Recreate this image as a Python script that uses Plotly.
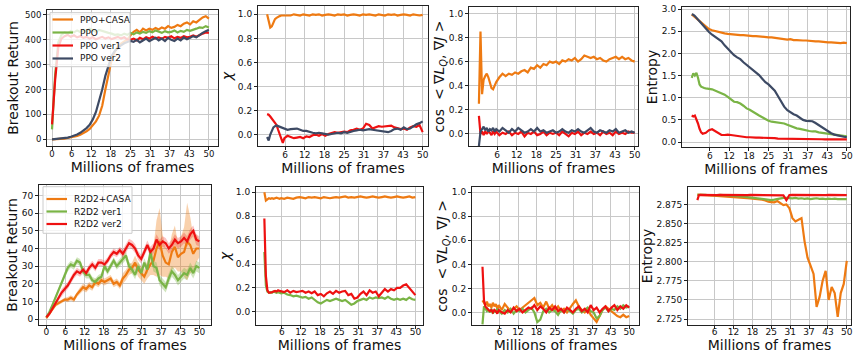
import plotly.graph_objects as go
import numpy as np

# ---------------- colours ----------------
C_ORANGE = "#EE7A12"
C_GREEN = "#7AB446"
C_RED = "#EE1111"
C_NAVY = "#3D4A64"

# ---------------- x grids (millions of frames) ----------------
FRAMES = list(range(0, 51))
FRAMES_FINE = [0.5, 1, 1.5, 2, 2.5, 3, 3.5, 4, 4.5, 5, 5.5] + list(range(6, 51))

X_TICKS_FULL = [0, 6.25, 12.5, 18.75, 25, 31.25, 37.5, 43.75, 50]
X_LABELS_FULL = ["0", "6", "12", "18", "25", "31", "37", "43", "50"]
X_TICKS_NOZERO = X_TICKS_FULL[1:]
X_LABELS_NOZERO = X_LABELS_FULL[1:]

# ---------------- PPO: Breakout return ----------------
ppo_casa_ret = [0, 0, 1, 2, 3, 5, 7, 10, 13, 18, 24, 32, 42, 55, 72, 95, 135, 200, 265, 320,
                352, 372, 385, 395, 402, 418, 432, 440, 430, 445, 438, 445, 440, 448, 442, 450,
                445, 455, 448, 452, 460, 455, 465, 470, 462, 475, 470, 480, 490, 495, 485]
ppo_ret = [40, 260, 390, 420, 430, 425, 435, 430, 438, 432, 440, 435, 445, 438, 432, 440, 435,
           430, 428, 425, 420, 422, 418, 425, 420, 428, 422, 430, 425, 432, 428, 435, 430, 438,
           432, 428, 435, 430, 432, 438, 430, 436, 432, 440, 436, 442, 445, 450, 448, 455, 450]
ppo_v1_ret = [60, 240, 370, 405, 415, 420, 412, 418, 410, 415, 408, 412, 405, 410, 402, 408,
              412, 405, 410, 403, 408, 412, 405, 410, 402, 400, 405, 398, 408, 402, 410, 405,
              412, 406, 410, 404, 412, 408, 414, 406, 412, 408, 415, 410, 412, 418, 412, 420,
              425, 430, 428]
ppo_v2_ret = [0, 1, 2, 3, 5, 7, 10, 14, 19, 26, 35, 45, 58, 80, 110, 150, 200, 255, 300, 335,
              355, 368, 378, 386, 392, 396, 392, 400, 390, 398, 405, 395, 402, 408, 398, 405,
              395, 408, 400, 395, 405, 398, 410, 402, 408, 415, 410, 420, 428, 435, 440]

# ---------------- PPO: chi ----------------
ppo_casa_chi = [1.0, 0.95, 0.89, 0.9, 0.93, 0.96, 0.97, 0.98, 0.985, 0.99, 0.99,
                0.99, 0.995, 0.99, 1.0, 0.995, 0.99, 1.0, 0.995, 0.99, 1.0,
                0.995, 1.0, 0.99, 0.995, 1.0, 0.995, 0.99, 1.0, 0.995, 1.0,
                0.99, 0.995, 1.0, 0.995, 0.99, 1.0, 0.995, 1.0, 0.995, 0.99,
                1.0, 0.995, 0.99, 1.0, 0.995, 1.0, 0.99, 0.995, 1.0, 0.995,
                0.99, 1.0, 0.995, 0.99, 0.995]
ppo_v1_chi = [0.17, 0.165, 0.15, 0.13, 0.11, 0.1, 0.08, 0.04, 0.0, -0.05, -0.07,
              -0.03, -0.01, -0.02, -0.03, -0.025, -0.02, -0.03, -0.015, -0.02, -0.005,
              0.0, -0.01, 0.005, -0.01, 0.005, 0.01, 0.02, 0.015, 0.02, 0.025,
              0.02, 0.035, 0.04, 0.05, 0.04, 0.05, 0.09, 0.08, 0.05, 0.06,
              0.07, 0.065, 0.07, 0.07, 0.075, 0.06, 0.055, 0.045, 0.05, 0.04,
              0.06, 0.07, 0.065, 0.08, 0.02]
ppo_v2_chi = [-0.02, -0.05, 0.0, 0.04, 0.06, 0.07, 0.075, 0.07, 0.065, 0.055, 0.05,
              0.045, 0.04, 0.045, 0.05, 0.05, 0.04, 0.03, 0.03, 0.02, 0.015,
              0.01, 0.015, 0.01, 0.005, 0.0, 0.005, 0.01, 0.015, 0.01, 0.02,
              0.015, 0.025, 0.03, 0.035, 0.04, 0.035, 0.04, 0.045, 0.04, 0.035,
              0.03, 0.025, 0.02, 0.02, 0.03, 0.045, 0.05, 0.04, 0.06, 0.045,
              0.05, 0.07, 0.085, 0.095, 0.11]

# ---------------- PPO: cos(grad L_Q, grad J) ----------------
ppo_casa_cos = [0.25, 0.85, 0.33, 0.45, 0.48, 0.5, 0.47, 0.42, 0.38, 0.37, 0.4,
                0.43, 0.47, 0.5, 0.48, 0.5, 0.49, 0.51, 0.5, 0.52, 0.53,
                0.51, 0.55, 0.54, 0.57, 0.55, 0.58, 0.57, 0.6, 0.59, 0.6,
                0.58, 0.61, 0.6, 0.62, 0.61, 0.63, 0.6, 0.62, 0.65, 0.64,
                0.63, 0.64, 0.62, 0.63, 0.61, 0.6, 0.62, 0.63, 0.64, 0.62,
                0.64, 0.62, 0.63, 0.61, 0.6]
ppo_v1_cos = [0.15, 0.0, 0.02, -0.01, 0.02, 0.0, 0.03, 0.01, -0.01, 0.02, 0.0,
              0.02, -0.01, 0.01, 0.0, 0.02, -0.01, 0.01, 0.0, 0.02, -0.02,
              0.01, 0.0, 0.02, -0.01, 0.0, 0.02, -0.01, 0.01, 0.0, 0.01,
              -0.01, 0.02, 0.0, -0.02, 0.01, 0.0, 0.02, -0.01, 0.01, 0.0,
              0.02, 0.0, 0.01, -0.01, 0.02, 0.0, 0.01, -0.01, 0.02, 0.0,
              0.01, 0.0, 0.02, 0.01, 0.01]
ppo_v2_cos = [-0.1, 0.02, 0.04, 0.06, 0.03, 0.05, 0.02, 0.04, 0.03, 0.05, 0.02,
              0.04, 0.02, 0.05, 0.03, 0.01, 0.04, 0.02, 0.05, 0.03, 0.01,
              0.02, 0.04, 0.02, 0.05, 0.02, 0.03, 0.01, 0.02, 0.03, 0.01,
              0.02, 0.04, 0.02, 0.01, 0.03, 0.02, 0.04, 0.02, 0.01, 0.03,
              0.05, 0.02, 0.01, 0.03, 0.02, 0.01, 0.03, 0.02, 0.04, 0.01,
              0.02, 0.03, 0.01, 0.02, 0.01]

# ---------------- PPO: entropy ----------------
ppo_casa_ent = [2.88, 2.85, 2.82, 2.79, 2.76, 2.72, 2.69, 2.65, 2.62, 2.59, 2.57,
                2.55, 2.52, 2.5, 2.48, 2.47, 2.45, 2.44, 2.43, 2.42, 2.42,
                2.41, 2.41, 2.4, 2.4, 2.39, 2.39, 2.38, 2.37, 2.37, 2.36,
                2.36, 2.35, 2.34, 2.33, 2.32, 2.31, 2.32, 2.3, 2.3, 2.29,
                2.29, 2.29, 2.28, 2.28, 2.27, 2.27, 2.26, 2.26, 2.25, 2.25,
                2.24, 2.24, 2.23, 2.24, 2.23]
ppo_ent = [1.45, 1.55, 1.5, 1.56, 1.45, 1.3, 1.25, 1.23, 1.22, 1.21, 1.21,
           1.2, 1.19, 1.16, 1.13, 1.11, 1.07, 1.02, 0.96, 0.91, 0.9,
           0.87, 0.82, 0.76, 0.73, 0.68, 0.64, 0.6, 0.56, 0.52, 0.48,
           0.46, 0.45, 0.44, 0.43, 0.42, 0.39, 0.36, 0.33, 0.31, 0.3,
           0.28, 0.26, 0.25, 0.24, 0.24, 0.22, 0.21, 0.2, 0.18, 0.17,
           0.16, 0.15, 0.15, 0.14, 0.13]
ppo_v1_ent = [0.6, 0.58, 0.6, 0.52, 0.42, 0.3, 0.22, 0.19, 0.2, 0.21, 0.24,
              0.27, 0.29, 0.25, 0.2, 0.16, 0.16, 0.17, 0.16, 0.15, 0.13,
              0.12, 0.11, 0.11, 0.11, 0.1, 0.1, 0.1, 0.1, 0.09, 0.09,
              0.09, 0.09, 0.08, 0.08, 0.08, 0.08, 0.08, 0.07, 0.07, 0.07,
              0.07, 0.07, 0.07, 0.07, 0.065, 0.065, 0.065, 0.06, 0.06, 0.06,
              0.06, 0.06, 0.06, 0.06, 0.06]
ppo_v2_ent = [2.88, 2.87, 2.84, 2.8, 2.76, 2.72, 2.68, 2.63, 2.59, 2.55, 2.51,
              2.48, 2.42, 2.37, 2.32, 2.27, 2.18, 2.1, 2.02, 1.96, 1.91,
              1.87, 1.8, 1.74, 1.69, 1.64, 1.57, 1.51, 1.43, 1.35, 1.3,
              1.24, 1.16, 1.04, 0.92, 0.8, 0.72, 0.67, 0.63, 0.6, 0.55,
              0.5, 0.48, 0.47, 0.47, 0.43, 0.38, 0.33, 0.28, 0.24, 0.2,
              0.17, 0.15, 0.13, 0.12, 0.11]

# ---------------- R2D2: Breakout return (mean and half band width) ----------------
r2d2_casa_ret = [0.5, 3, 6, 8, 9, 10, 11, 11, 12, 11, 14, 16, 18, 17, 19, 18, 21, 20, 22, 21,
                 22, 23, 20, 21, 19, 23, 25, 28, 29, 32, 28, 26, 24, 28, 31, 33, 40, 44, 36, 32,
                 31, 38, 41, 35, 37, 38, 44, 42, 37, 40, 40]
r2d2_casa_band = [0.5, 1, 1, 1, 1, 1, 1, 1.5, 1.5, 1.5, 1.5, 2, 2, 2, 2, 2, 2, 2, 2, 2,
                  2, 2, 2, 2, 2, 3, 3, 3, 3, 4, 4, 4, 4, 5, 6, 8, 16, 19, 12, 8,
                  8, 10, 12, 8, 10, 14, 22, 16, 10, 8, 5]
r2d2_v1_ret = [1, 4, 8, 12, 16, 20, 25, 29, 31, 30, 33, 32, 27, 25, 25, 22, 21, 23, 24, 30,
               27, 30, 33, 30, 32, 34, 36, 30, 28, 25, 30, 26, 32, 28, 38, 30, 29, 22, 20, 18,
               23, 27, 25, 22, 24, 26, 25, 29, 26, 30, 29]
r2d2_v1_band = [0.5, 1, 1, 1.5, 1.5, 2, 2, 2, 2, 2, 2, 2, 2, 2, 2, 2, 2, 2, 2, 2,
                2, 2, 2, 2, 2, 2.5, 2.5, 2.5, 2.5, 2.5, 2.5, 2.5, 2.5, 2.5, 3, 3, 3, 3, 3, 3,
                3, 3, 3, 3, 3, 3, 3, 3, 3, 3, 3]
r2d2_v2_ret = [1, 3, 6, 9, 12, 15, 17, 19, 22, 25, 27, 26, 28, 26, 29, 31, 29, 32, 32, 31,
               33, 36, 38, 37, 39, 37, 40, 43, 42, 40, 36, 34, 38, 42, 38, 40, 45, 42, 44, 43,
               40, 42, 45, 43, 44, 46, 44, 48, 50, 45, 44]
r2d2_v2_band = [0.5, 1, 1, 1.5, 1.5, 2, 2, 2, 2, 2, 2, 2, 2, 2, 2, 2, 2, 2, 2, 2,
                2, 2, 2, 2, 2, 2.5, 2.5, 2.5, 2.5, 2.5, 2.5, 2.5, 2.5, 2.5, 3, 3, 3, 3, 3, 3,
                3, 3, 3, 3, 3, 3, 3, 3, 3, 3, 3]

# ---------------- R2D2: chi ----------------
r2d2_casa_chi = [1.0, 0.93, 0.94, 0.95, 0.945, 0.95, 0.945, 0.95, 0.955, 0.95, 0.945,
                 0.95, 0.945, 0.955, 0.95, 0.945, 0.955, 0.96, 0.955, 0.95, 0.96,
                 0.955, 0.96, 0.955, 0.95, 0.96, 0.955, 0.95, 0.955, 0.96, 0.955,
                 0.96, 0.965, 0.955, 0.96, 0.955, 0.96, 0.965, 0.96, 0.955, 0.96,
                 0.965, 0.96, 0.955, 0.96, 0.965, 0.96, 0.955, 0.96, 0.965, 0.96,
                 0.955, 0.96, 0.965, 0.955, 0.96]
r2d2_v1_chi = [0.5, 0.22, 0.17, 0.16, 0.165, 0.16, 0.17, 0.165, 0.16, 0.165, 0.16,
               0.155, 0.16, 0.145, 0.14, 0.13, 0.135, 0.13, 0.12, 0.125, 0.11,
               0.12, 0.1, 0.08, 0.07, 0.085, 0.1, 0.09, 0.1, 0.11, 0.1,
               0.09, 0.1, 0.08, 0.06, 0.07, 0.09, 0.1, 0.11, 0.1, 0.12,
               0.11, 0.12, 0.115, 0.12, 0.11, 0.125, 0.11, 0.1, 0.11, 0.1,
               0.11, 0.1, 0.12, 0.105, 0.1]
r2d2_v2_chi = [0.78, 0.3, 0.18, 0.16, 0.16, 0.165, 0.17, 0.175, 0.17, 0.18, 0.175,
               0.17, 0.165, 0.18, 0.16, 0.175, 0.165, 0.17, 0.175, 0.16, 0.17,
               0.155, 0.17, 0.14, 0.15, 0.13, 0.155, 0.17, 0.15, 0.175, 0.16,
               0.17, 0.175, 0.14, 0.15, 0.11, 0.12, 0.15, 0.17, 0.14, 0.18,
               0.16, 0.17, 0.13, 0.16, 0.19, 0.17, 0.19, 0.18, 0.2, 0.2,
               0.22, 0.23, 0.2, 0.17, 0.14]

# ---------------- R2D2: cos ----------------
r2d2_casa_cos = [0.1, 0.08, 0.06, 0.09, 0.05, 0.07, 0.04, 0.08, 0.05, 0.07, 0.03,
                 0.06, 0.02, 0.07, 0.04, 0.01, 0.03, 0.05, 0.02, 0.04, 0.06,
                 0.08, 0.1, 0.12, 0.06, 0.08, 0.04, 0.09, 0.03, 0.06, 0.02,
                 0.05, 0.01, 0.03, 0.0, 0.04, 0.07, 0.1, 0.05, 0.02, 0.0,
                 0.03, -0.02, -0.05, -0.08, -0.03, 0.02, 0.05, 0.03, 0.01, -0.01,
                 -0.03, -0.04, -0.02, -0.04, -0.03]
r2d2_v1_cos = [-0.1, 0.05, 0.03, 0.01, 0.02, 0.0, 0.03, -0.01, 0.02, 0.0, 0.03,
               0.01, -0.01, 0.02, 0.0, 0.03, -0.01, 0.02, 0.01, 0.03, 0.0,
               0.02, 0.04, 0.0, -0.08, -0.06, 0.01, 0.03, 0.0, 0.02, 0.01,
               -0.02, 0.02, 0.0, 0.03, 0.01, -0.01, 0.02, 0.03, 0.0, 0.02,
               0.04, 0.01, 0.0, -0.05, -0.03, 0.02, 0.04, 0.01, 0.03, 0.02,
               0.05, 0.03, 0.06, 0.04, 0.05]
r2d2_v2_cos = [0.38, 0.1, 0.05, 0.03, 0.02, 0.01, 0.02, 0.0, 0.02, 0.01, -0.01,
               0.02, 0.0, -0.01, 0.02, 0.0, 0.04, 0.01, 0.03, 0.0, 0.02,
               0.04, 0.03, 0.06, 0.02, 0.05, 0.03, 0.0, 0.04, 0.02, 0.05,
               0.01, 0.03, 0.0, 0.04, 0.02, 0.0, 0.03, 0.05, 0.01, 0.03,
               0.0, 0.06, 0.02, 0.04, 0.0, 0.03, 0.05, 0.01, 0.04, 0.06,
               0.02, 0.05, 0.03, 0.06, 0.04]

# ---------------- R2D2: entropy ----------------
r2d2_casa_ent = [2.8878, 2.8876, 2.8874, 2.8872, 2.8870, 2.8869, 2.8868, 2.8866, 2.8865, 2.8864, 2.8863,
                 2.8862, 2.8860, 2.8858, 2.8856, 2.8853, 2.8850, 2.8846, 2.8844, 2.8840, 2.8838,
                 2.8834, 2.8830, 2.8827, 2.8824, 2.8820, 2.8817, 2.8812, 2.8800, 2.8784, 2.8780,
                 2.8776, 2.8793, 2.8763, 2.8741, 2.8750, 2.8698, 2.8570, 2.8527, 2.8548, 2.8570,
                 2.8270, 2.8054, 2.7950, 2.7840, 2.7410, 2.7540, 2.7750, 2.7880, 2.7500, 2.7670,
                 2.7590, 2.7280, 2.7590, 2.7710, 2.8010]
r2d2_v1_ent = [2.8874, 2.8876, 2.8875, 2.8874, 2.8876, 2.8875, 2.8874, 2.8875, 2.8876, 2.8874, 2.8875,
               2.8874, 2.8872, 2.8873, 2.8871, 2.8869, 2.8867, 2.8866, 2.8862, 2.8858, 2.8853,
               2.8850, 2.8845, 2.8840, 2.8836, 2.8830, 2.8826, 2.8820, 2.8814, 2.8810, 2.8806,
               2.8812, 2.8822, 2.8830, 2.8834, 2.8836, 2.8832, 2.8828, 2.8834, 2.8826, 2.8830,
               2.8822, 2.8828, 2.8818, 2.8824, 2.8830, 2.8822, 2.8826, 2.8818, 2.8824, 2.8820,
               2.8826, 2.8818, 2.8822, 2.8820, 2.8818]
r2d2_v2_ent = [2.8806, 2.8870, 2.8873, 2.8872, 2.8874, 2.8873, 2.8872, 2.8874, 2.8873, 2.8872, 2.8874,
               2.8873, 2.8872, 2.8874, 2.8873, 2.8872, 2.8874, 2.8873, 2.8872, 2.8874, 2.8873,
               2.8873, 2.8872, 2.8874, 2.8873, 2.8872, 2.8874, 2.8873, 2.8872, 2.8874, 2.8873,
               2.8872, 2.8874, 2.8873, 2.8868, 2.8806, 2.8872, 2.8874, 2.8873, 2.8872, 2.8874,
               2.8873, 2.8872, 2.8874, 2.8873, 2.8872, 2.8874, 2.8873, 2.8872, 2.8874, 2.8873,
               2.8873, 2.8872, 2.8874, 2.8873, 2.8872]

# ---------------- tick labels ----------------
Y_TICKS_RET_PPO = [0, 100, 200, 300, 400, 500]
Y_TICKS_UNIT = [0.0, 0.2, 0.4, 0.6, 0.8, 1.0]
Y_TICKS_ENT_PPO = [0.0, 0.5, 1.0, 1.5, 2.0, 2.5, 3.0]
Y_TICKS_RET_R2D2 = [0, 10, 20, 30, 40, 50, 60, 70]
Y_TICKS_ENT_R2D2 = [2.725, 2.750, 2.775, 2.800, 2.825, 2.850, 2.875]

PPO_NAMES = ["PPO+CASA", "PPO", "PPO ver1", "PPO ver2"]
R2D2_NAMES = ["R2D2+CASA", "R2D2 ver1", "R2D2 ver2"]

for arr in [ppo_casa_chi, ppo_v1_chi, ppo_v2_chi, ppo_casa_cos, ppo_v1_cos, ppo_v2_cos,
            ppo_casa_ent, ppo_ent, ppo_v1_ent, ppo_v2_ent, r2d2_casa_chi, r2d2_v1_chi,
            r2d2_v2_chi, r2d2_casa_cos, r2d2_v1_cos, r2d2_v2_cos, r2d2_casa_ent,
            r2d2_v1_ent, r2d2_v2_ent]:
    assert len(arr) == len(FRAMES_FINE), len(arr)
for arr in [ppo_casa_ret, ppo_ret, ppo_v1_ret, ppo_v2_ret, r2d2_casa_ret, r2d2_casa_band,
            r2d2_v1_ret, r2d2_v1_band, r2d2_v2_ret, r2d2_v2_band]:
    assert len(arr) == len(FRAMES), len(arr)

FONT = "DejaVu Sans"
LW = 2.2
fig = go.Figure()


def axname(ax, letter):
    return letter + ("" if ax == 1 else str(ax))


def add_line(ax, x, y, color, name):
    fig.add_trace(go.Scatter(
        x=x, y=y, mode="lines", name=name,
        line=dict(color=color, width=LW),
        xaxis=axname(ax, "x"), yaxis=axname(ax, "y"),
        showlegend=False, hoverinfo="skip"))


def add_band(ax, x, mean, half, rgba):
    m = np.array(mean, dtype=float)
    h = np.array(half, dtype=float)
    upper = list(m + h)
    lower = list(m - h)
    fig.add_trace(go.Scatter(
        x=list(x) + list(x)[::-1], y=upper + lower[::-1], mode="lines",
        fill="toself", fillcolor=rgba, line=dict(width=0),
        xaxis=axname(ax, "x"), yaxis=axname(ax, "y"),
        showlegend=False, hoverinfo="skip"))


# Panel 1: PPO return
add_line(1, FRAMES, ppo_casa_ret, C_ORANGE, PPO_NAMES[0])
add_line(1, FRAMES, ppo_ret, C_GREEN, PPO_NAMES[1])
add_line(1, FRAMES, ppo_v1_ret, C_RED, PPO_NAMES[2])
add_line(1, FRAMES, ppo_v2_ret, C_NAVY, PPO_NAMES[3])
# Panel 2: PPO chi
add_line(2, FRAMES_FINE, ppo_casa_chi, C_ORANGE, PPO_NAMES[0])
add_line(2, FRAMES_FINE, ppo_v1_chi, C_RED, PPO_NAMES[2])
add_line(2, FRAMES_FINE, ppo_v2_chi, C_NAVY, PPO_NAMES[3])
# Panel 3: PPO cos
add_line(3, FRAMES_FINE, ppo_casa_cos, C_ORANGE, PPO_NAMES[0])
add_line(3, FRAMES_FINE, ppo_v1_cos, C_RED, PPO_NAMES[2])
add_line(3, FRAMES_FINE, ppo_v2_cos, C_NAVY, PPO_NAMES[3])
# Panel 4: PPO entropy
add_line(4, FRAMES_FINE, ppo_casa_ent, C_ORANGE, PPO_NAMES[0])
add_line(4, FRAMES_FINE, ppo_ent, C_GREEN, PPO_NAMES[1])
add_line(4, FRAMES_FINE, ppo_v1_ent, C_RED, PPO_NAMES[2])
add_line(4, FRAMES_FINE, ppo_v2_ent, C_NAVY, PPO_NAMES[3])
# Panel 5: R2D2 return with bands
add_band(5, FRAMES, r2d2_casa_ret, r2d2_casa_band, "rgba(238,122,18,0.35)")
add_band(5, FRAMES, r2d2_v1_ret, r2d2_v1_band, "rgba(122,180,70,0.35)")
add_band(5, FRAMES, r2d2_v2_ret, r2d2_v2_band, "rgba(238,17,17,0.25)")
add_line(5, FRAMES, r2d2_casa_ret, C_ORANGE, R2D2_NAMES[0])
add_line(5, FRAMES, r2d2_v1_ret, C_GREEN, R2D2_NAMES[1])
add_line(5, FRAMES, r2d2_v2_ret, C_RED, R2D2_NAMES[2])
# Panel 6: R2D2 chi
add_line(6, FRAMES_FINE, r2d2_casa_chi, C_ORANGE, R2D2_NAMES[0])
add_line(6, FRAMES_FINE, r2d2_v1_chi, C_GREEN, R2D2_NAMES[1])
add_line(6, FRAMES_FINE, r2d2_v2_chi, C_RED, R2D2_NAMES[2])
# Panel 7: R2D2 cos
add_line(7, FRAMES_FINE, r2d2_casa_cos, C_ORANGE, R2D2_NAMES[0])
add_line(7, FRAMES_FINE, r2d2_v1_cos, C_GREEN, R2D2_NAMES[1])
add_line(7, FRAMES_FINE, r2d2_v2_cos, C_RED, R2D2_NAMES[2])
# Panel 8: R2D2 entropy
add_line(8, FRAMES_FINE, r2d2_casa_ent, C_ORANGE, R2D2_NAMES[0])
add_line(8, FRAMES_FINE, r2d2_v1_ent, C_GREEN, R2D2_NAMES[1])
add_line(8, FRAMES_FINE, r2d2_v2_ent, C_RED, R2D2_NAMES[2])

W, H = 853, 353


def px_x(a, b):
    return [a / W, b / W]


def px_y(top, bottom):
    return [1 - bottom / H, 1 - top / H]


COS_TITLE = "cos  < ∇<i>L</i><sub><i>Q</i></sub>, ∇<i>J</i> >"
CHI_TITLE = "<i>χ</i>"

panels = [
    # (x px, y px, xrange, yrange, yticks, ytext, ytitle, xticks, xtext, tickfont,
    #  ytitle standoff, x ticklabel standoff)
    ((47, 218), (10, 146), [-1.6, 52.9], [-27, 520], Y_TICKS_RET_PPO,
     [str(v) for v in Y_TICKS_RET_PPO], "Breakout Return", X_TICKS_FULL, X_LABELS_FULL, 8.5, 3, -3),
    ((258, 428), (6, 146), [-2.4, 51.7], [-0.095, 1.069], Y_TICKS_UNIT,
     ["%.1f" % v for v in Y_TICKS_UNIT], CHI_TITLE, X_TICKS_NOZERO, X_LABELS_NOZERO, 9, 1, -3),
    ((469, 638), (7, 146), [-2.65, 51.05], [-0.1, 1.053], Y_TICKS_UNIT,
     ["%.1f" % v for v in Y_TICKS_UNIT], COS_TITLE, X_TICKS_NOZERO, X_LABELS_NOZERO, 9, 0, -3),
    ((682, 850), (7, 147), [-2.6, 51.0], [-0.11, 3.045], Y_TICKS_ENT_PPO,
     ["%.1f" % v for v in Y_TICKS_ENT_PPO], "Entropy", X_TICKS_NOZERO, X_LABELS_NOZERO, 9, 0, -3),
    ((39, 211), (185, 325), [-2.4, 53.8], [-3.4, 76], Y_TICKS_RET_R2D2,
     [str(v) for v in Y_TICKS_RET_R2D2], "Breakout Return", X_TICKS_FULL, X_LABELS_FULL, 9, 0, -5),
    ((256, 423), (187, 325), [-2.24, 52.5], [-0.11, 1.044], Y_TICKS_UNIT,
     ["%.1f" % v for v in Y_TICKS_UNIT], CHI_TITLE, X_TICKS_NOZERO, X_LABELS_NOZERO, 9, 1, -5),
    ((472, 639), (187, 325), [-3.04, 53.3], [-0.105, 1.044], Y_TICKS_UNIT,
     ["%.1f" % v for v in Y_TICKS_UNIT], COS_TITLE, X_TICKS_NOZERO, X_LABELS_NOZERO, 9, 0, -5),
    ((688, 851), (187, 325), [-2.6, 51.4], [2.7173, 2.8977], Y_TICKS_ENT_R2D2,
     ["%.3f" % v for v in Y_TICKS_ENT_R2D2], "Entropy", X_TICKS_NOZERO, X_LABELS_NOZERO, 9, 0, -5),
]

layout = dict(
    width=W, height=H, margin=dict(l=0, r=0, t=0, b=0),
    paper_bgcolor="white", plot_bgcolor="white",
    font=dict(family=FONT, color="#111"),
    showlegend=False,
)

axis_common = dict(showline=True, linecolor="#222", linewidth=1, mirror=True,
                   ticks="outside", ticklen=3, tickwidth=0.8, tickcolor="#222",
                   showgrid=True, gridcolor="#c8c8c8", gridwidth=1, zeroline=False,
                   automargin=False)

for i, (xp, yp, xr, yr, yt, ytt, ytitle, xt, xtt, tfs, yso, xls) in enumerate(panels, start=1):
    layout[axname(i, "xaxis")] = dict(
        axis_common, domain=px_x(*xp), range=xr, anchor=axname(i, "y"),
        tickmode="array", tickvals=xt, ticktext=xtt, ticklabelstandoff=xls,
        tickfont=dict(family=FONT, size=tfs, color="#111"),
        title=dict(text="Millions of frames", standoff=2,
                   font=dict(family=FONT, size=14, color="#111")))
    layout[axname(i, "yaxis")] = dict(
        axis_common, domain=px_y(*yp), range=yr, anchor=axname(i, "x"),
        tickmode="array", tickvals=yt, ticktext=ytt,
        tickfont=dict(family=FONT, size=tfs, color="#111"),
        title=dict(text=ytitle, standoff=yso,
                   font=dict(family=FONT, size=14, color="#111")))

# ---------------- legends (drawn as boxes with sample lines and text) ----------------
shapes = []
annotations = []


def add_legend(box, names, colors, rows_y, line_x, text_x):
    x0, x1, y0, y1 = box
    shapes.append(dict(type="rect", xref="paper", yref="paper", layer="above",
                       x0=x0 / W, x1=x1 / W, y0=1 - y1 / H, y1=1 - y0 / H,
                       fillcolor="rgba(255,255,255,0.8)",
                       line=dict(color="#cccccc", width=1)))
    for name, col, ry in zip(names, colors, rows_y):
        shapes.append(dict(type="line", xref="paper", yref="paper", layer="above",
                           x0=line_x[0] / W, x1=line_x[1] / W,
                           y0=1 - ry / H, y1=1 - ry / H,
                           line=dict(color=col, width=LW)))
        annotations.append(dict(text=name, xref="paper", yref="paper",
                                x=text_x / W, y=1 - ry / H, xanchor="left",
                                yanchor="middle", showarrow=False,
                                font=dict(family=FONT, size=9, color="#111")))


add_legend((50, 130, 12.7, 66.7), PPO_NAMES, [C_ORANGE, C_GREEN, C_RED, C_NAVY],
           [19.5, 32.5, 45.5, 58.5], (52.5, 73), 78)
add_legend((43, 132, 186.7, 233.3), R2D2_NAMES, [C_ORANGE, C_GREEN, C_RED],
           [199, 211.5, 224], (46.5, 67), 72)

layout["shapes"] = shapes
layout["annotations"] = annotations

fig.update_layout(layout)
fig.write_html("out.html", config={"displayModeBar": False},
               post_script="document.body.style.margin='0px';document.body.style.padding='0px';")
